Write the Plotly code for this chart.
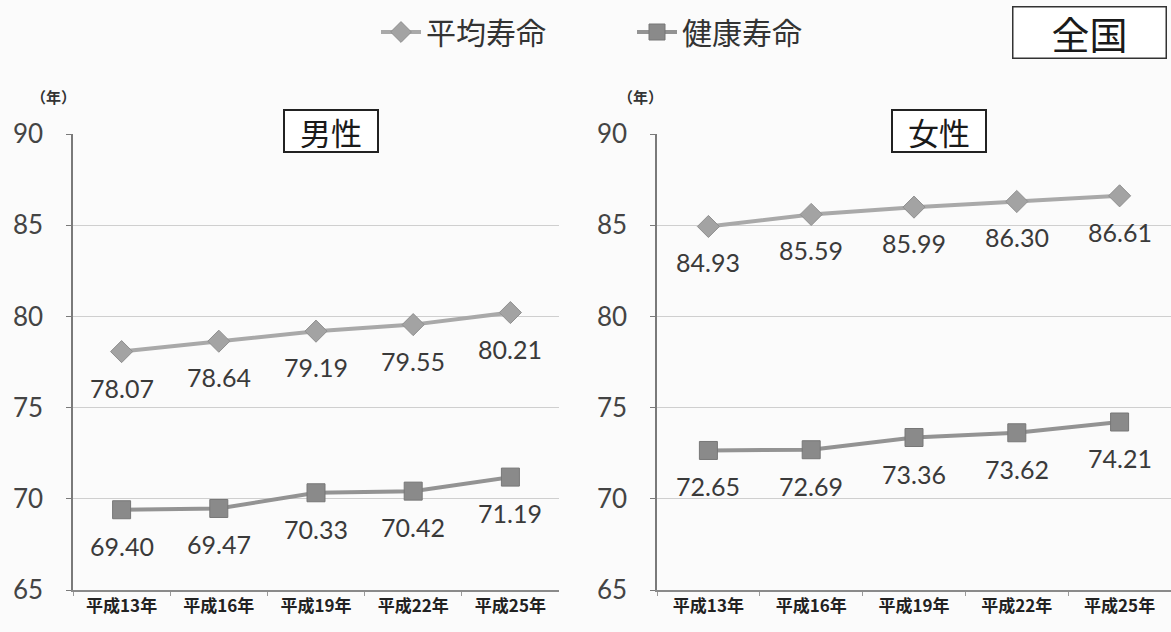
import plotly.graph_objects as go

# Survey years and values (years of age)
categories = ["平成13年", "平成16年", "平成19年", "平成22年", "平成25年"]
male_life = [78.07, 78.64, 79.19, 79.55, 80.21]
male_healthy = [69.40, 69.47, 70.33, 70.42, 71.19]
female_life = [84.93, 85.59, 85.99, 86.30, 86.61]
female_healthy = [72.65, 72.69, 73.36, 73.62, 74.21]

series_names = ["平均寿命", "健康寿命"]
y_ticks = [65, 70, 75, 80, 85, 90]

W, H = 1171, 632
CJK = "Noto Sans CJK JP"
NUM = "Lato"

LIFE_LINE = "#a9a9a9"
LIFE_MARK = "#a3a3a3"
HEALTH_LINE = "#939393"
HEALTH_MARK = "#8a8a8a"


def px_x(v):
    return v / W


def px_y(v):
    return 1 - v / H


fig = go.Figure()

panels = [
    ("x", "y", male_life, male_healthy, True),
    ("x2", "y2", female_life, female_healthy, False),
]

for xa, ya, life, healthy, show in panels:
    fig.add_trace(go.Scatter(
        x=categories, y=life, xaxis=xa, yaxis=ya,
        name=series_names[0], legendgroup="life", showlegend=show, legend="legend",
        mode="lines+markers",
        line=dict(color=LIFE_LINE, width=4),
        marker=dict(symbol="diamond", size=17, color=LIFE_MARK,
                    line=dict(color="#8f8f8f", width=1)),
    ))
    fig.add_trace(go.Scatter(
        x=categories, y=healthy, xaxis=xa, yaxis=ya,
        name=series_names[1], legendgroup="healthy", showlegend=show, legend="legend2",
        mode="lines+markers",
        line=dict(color=HEALTH_LINE, width=4),
        marker=dict(symbol="square", size=18, color=HEALTH_MARK,
                    line=dict(color="#777777", width=1)),
    ))

annotations = []
# value labels under each marker
for xa, ya, life, healthy, _ in panels:
    for vals in (life, healthy):
        for c, v in zip(categories, vals):
            annotations.append(dict(
                x=c, y=v, xref=xa, yref=ya, text=f"{v:.2f}",
                showarrow=False, yshift=-36, yanchor="middle",
                font=dict(family=NUM, size=25, color="#3a3a3a"),
            ))

# unit labels above each value axis
for cx in (53, 640):
    annotations.append(dict(
        x=px_x(cx), y=px_y(96), xref="paper", yref="paper", text="（年）",
        showarrow=False, xanchor="center", yanchor="middle",
        font=dict(family=CJK, size=15, color="#333333", weight="bold"),
    ))

# boxed panel titles
for cx, txt in ((331, "男性"), (939, "女性")):
    annotations.append(dict(
        x=px_x(cx), y=px_y(131), xref="paper", yref="paper", text=txt,
        showarrow=False, xanchor="center", yanchor="middle",
        width=88, height=36, borderpad=2,
        bgcolor="#ffffff", bordercolor="#222222", borderwidth=2,
        font=dict(family=CJK, size=31, color="#1a1a1a"),
    ))

annotations.append(dict(
    x=px_x(1089), y=px_y(32), xref="paper", yref="paper", text="全国",
    showarrow=False, xanchor="center", yanchor="middle",
    width=148, height=46, borderpad=2,
    bgcolor="#ffffff", bordercolor="#333333", borderwidth=1.5,
    font=dict(family=CJK, size=38, color="#1a1a1a"),
))

yaxis_style = dict(
    range=[65, 90], tickvals=y_ticks, showgrid=True, gridcolor="#cfcfcf", gridwidth=1,
    showline=True, linecolor="#7a7a7a", linewidth=1.5,
    ticks="outside", ticklen=5, tickcolor="#7a7a7a", ticklabelstandoff=18,
    tickfont=dict(family=NUM, size=26, color="#444444"),
    zeroline=False, automargin=False, domain=[px_y(590), px_y(134)],
)
xaxis_style = dict(
    type="category", range=[-0.5, 4.5], showgrid=False,
    showline=True, linecolor="#8a8a8a", linewidth=1.5,
    ticks="outside", ticklen=4, tickcolor="#9a9a9a", tickson="boundaries",
    tickfont=dict(family=CJK, size=17, color="#222222", weight="bold"),
    zeroline=False, automargin=False,
)

legend_common = dict(
    orientation="h", yanchor="middle", xanchor="left",
    bgcolor="rgba(0,0,0,0)", itemwidth=40,
    font=dict(family=CJK, size=30, color="#333333"),
)

fig.update_layout(
    width=W, height=H,
    margin=dict(l=0, r=0, t=0, b=0),
    paper_bgcolor="#fbfbfb", plot_bgcolor="rgba(0,0,0,0)",
    xaxis=dict(xaxis_style, domain=[px_x(73), px_x(559)], anchor="y"),
    yaxis=dict(yaxis_style, anchor="x"),
    xaxis2=dict(xaxis_style, domain=[px_x(657), 1.0], anchor="y2"),
    yaxis2=dict(yaxis_style, anchor="x2"),
    legend=dict(legend_common, x=px_x(376), y=px_y(32)),
    legend2=dict(legend_common, x=px_x(632), y=px_y(32)),
    annotations=annotations,
    showlegend=True,
)

fig.write_html("out.html")
